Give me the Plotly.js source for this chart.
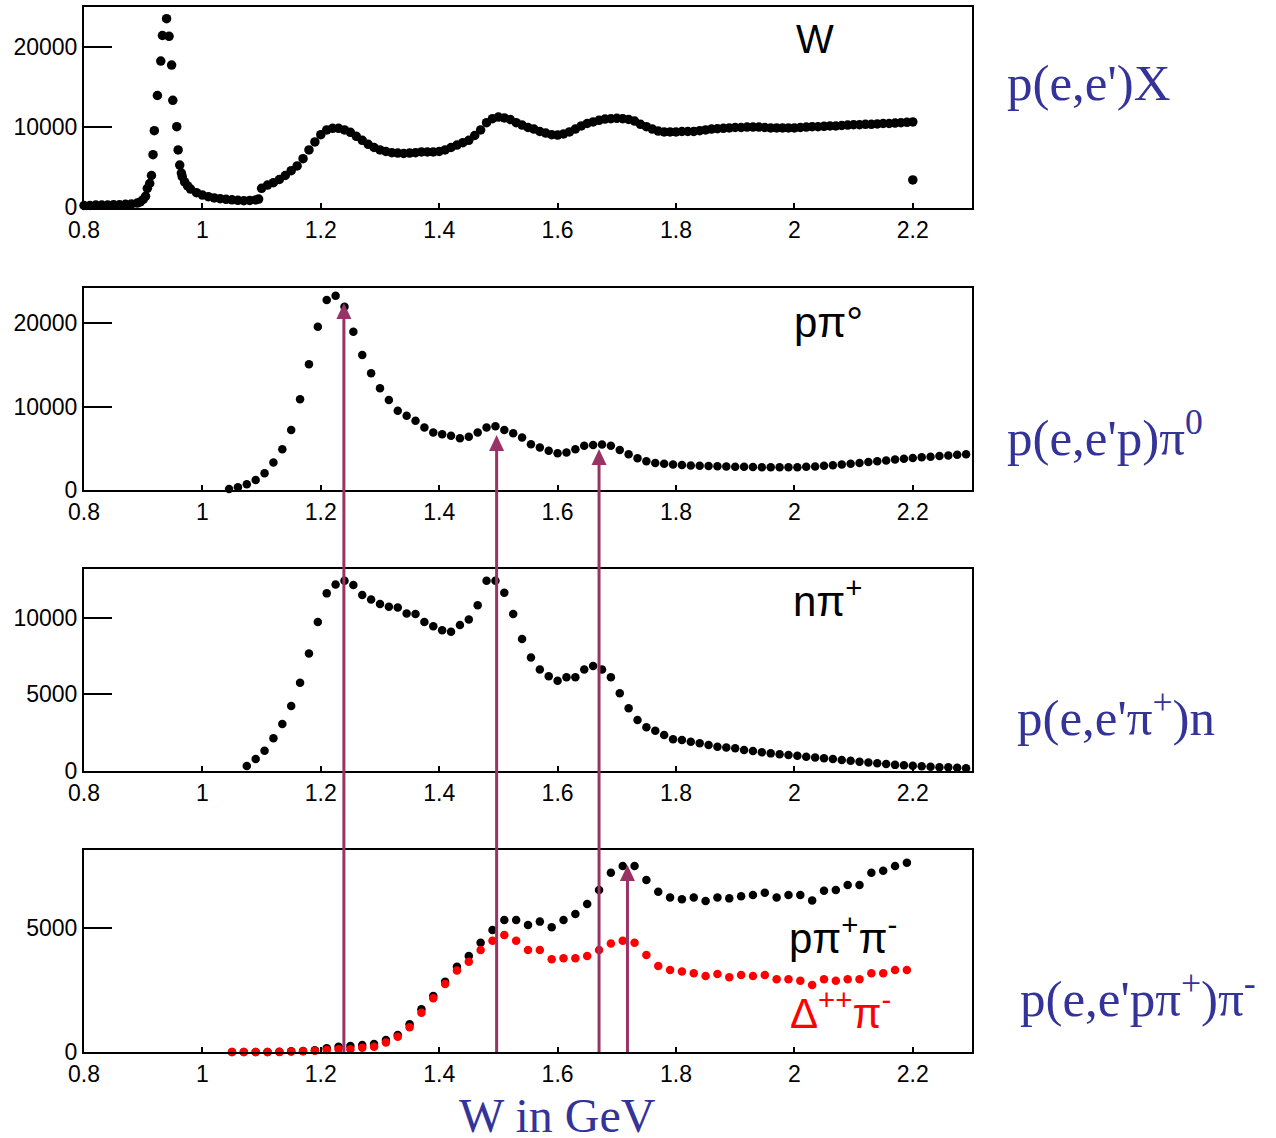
<!DOCTYPE html>
<html><head><meta charset="utf-8">
<script src="https://cdn.plot.ly/plotly-3.0.1.min.js"></script>
<style>html,body{margin:0;padding:0;background:#fff;} #chart{width:1276px;height:1138px;}</style>
</head><body><div id="chart"></div>
<script>
// ---------- data ----------
const xTickVals = [0.8, 1, 1.2, 1.4, 1.6, 1.8, 2, 2.2];
const xTickText = ["0.8", "1", "1.2", "1.4", "1.6", "1.8", "2", "2.2"];

// Panel 1: inclusive p(e,e')X
const wInclW = [0.80,0.81,0.82,0.83,0.84,0.85,0.86,0.87,0.88,0.89,
  0.895,0.90,0.904,0.907,0.911,0.914,0.9166,0.9188,0.924,0.9297,
  0.9325,0.9395,0.9437,0.948,0.950,0.9567,0.959,0.9617,0.9645,0.966,
  0.970,0.975,0.980,0.990,1.00,1.01,1.02,1.03,1.04,1.05,
  1.06,1.07,1.08,1.09,1.095,1.10,1.11,1.12,1.13,1.14,
  1.15,1.16,1.17,1.18,1.19,1.20,1.21,1.22,1.23,1.24,
  1.25,1.26,1.27,1.28,1.29,1.30,1.31,1.32,1.33,1.34,
  1.35,1.36,1.37,1.38,1.39,1.40,1.41,1.42,1.43,1.44,
  1.45,1.46,1.47,1.48,1.49,1.50,1.51,1.52,1.53,1.54,
  1.55,1.56,1.57,1.58,1.59,1.60,1.61,1.62,1.63,1.64,
  1.65,1.66,1.67,1.68,1.69,1.70,1.71,1.72,1.73,1.74,
  1.75,1.76,1.77,1.78,1.79,1.80,1.81,1.82,1.83,1.84,
  1.85,1.86,1.87,1.88,1.89,1.90,1.91,1.92,1.93,1.94,
  1.95,1.96,1.97,1.98,1.99,2.00,2.01,2.02,2.03,2.04,
  2.05,2.06,2.07,2.08,2.09,2.10,2.11,2.12,2.13,2.14,
  2.15,2.16,2.17,2.18,2.19,2.20,2.20];
const wInclY = [150,150,200,200,200,250,250,300,350,450,
  600,900,1300,2300,2900,3900,6500,9500,13900,18200,
  21400,23500,21300,17700,13300,10000,7100,5200,4200,3750,
  3100,2600,2200,1750,1450,1250,1100,1000,920,860,
  800,760,780,850,950,2300,2700,3000,3400,3900,
  4500,5100,6000,7100,8100,9000,9600,9800,9800,9600,
  9300,8800,8300,7800,7400,7100,6900,6750,6700,6650,
  6700,6750,6850,6850,6850,6900,7100,7400,7700,8000,
  8300,8900,9600,10500,11000,11200,11100,10900,10500,10200,
  9900,9700,9400,9200,9000,8950,9100,9350,9700,10100,
  10400,10600,10800,10950,11000,11050,11000,10900,10700,10300,
  10000,9700,9450,9350,9350,9350,9400,9400,9400,9500,
  9600,9700,9750,9800,9850,9900,9900,9950,9950,9950,
  9900,9850,9850,9850,9850,9850,9900,9950,10000,10000,
  10050,10100,10100,10150,10200,10250,10250,10300,10300,10350,
  10400,10400,10450,10500,10550,10600,3350];

// Panel 2: p pi0
const pPi0W = [1.045,1.06,1.075,1.09,1.105,1.12,1.135,1.15,1.165,1.18,
  1.195,1.21,1.225,1.24,1.255,1.27,1.285,1.30,1.315,1.33,
  1.345,1.36,1.375,1.39,1.405,1.42,1.435,1.45,1.465,1.48,
  1.495,1.51,1.525,1.54,1.555,1.57,1.585,1.60,1.615,1.63,
  1.645,1.66,1.675,1.69,1.705,1.72,1.735,1.75,1.765,1.78,
  1.795,1.81,1.825,1.84,1.855,1.87,1.885,1.90,1.915,1.93,
  1.945,1.96,1.975,1.99,2.005,2.02,2.035,2.05,2.065,2.08,
  2.095,2.11,2.125,2.14,2.155,2.17,2.185,2.20,2.215,2.23,
  2.245,2.26,2.275,2.29];
const pPi0Y = [120,320,700,1200,2000,3300,4900,7200,10900,15100,
  19600,22800,23300,22000,19000,16200,14000,12200,10800,9500,
  8900,8300,7500,6900,6700,6500,6200,6400,6900,7500,
  7650,7200,6800,6300,5500,5100,4700,4400,4500,4900,
  5300,5400,5450,5300,4800,4300,3800,3450,3250,3150,
  3050,3000,2950,2900,2880,2850,2820,2800,2780,2760,
  2740,2720,2720,2720,2740,2780,2830,2900,2980,3050,
  3150,3250,3350,3450,3550,3650,3750,3850,3930,4000,
  4080,4150,4230,4300];

// Panel 3: n pi+
const nPipW = [1.075,1.09,1.105,1.12,1.135,1.15,1.165,1.18,1.195,1.21,
  1.225,1.24,1.255,1.27,1.285,1.30,1.315,1.33,1.345,1.36,
  1.375,1.39,1.405,1.42,1.435,1.45,1.465,1.48,1.495,1.51,
  1.525,1.54,1.555,1.57,1.585,1.60,1.615,1.63,1.645,1.66,
  1.675,1.69,1.705,1.72,1.735,1.75,1.765,1.78,1.795,1.81,
  1.825,1.84,1.855,1.87,1.885,1.90,1.915,1.93,1.945,1.96,
  1.975,1.99,2.005,2.02,2.035,2.05,2.065,2.08,2.095,2.11,
  2.125,2.14,2.155,2.17,2.185,2.20,2.215,2.23,2.245,2.26,
  2.275,2.29];
const nPipY = [330,780,1320,2130,3060,4240,5760,7670,9730,11590,
  12170,12410,12130,11480,11190,10890,10710,10670,10280,10240,
  9730,9450,9190,9080,9520,9890,10820,12410,12410,11630,
  10240,8610,7410,6630,6190,5890,6110,6110,6630,6850,
  6630,6110,5070,4090,3330,2850,2630,2350,2070,2020,
  1910,1810,1700,1580,1540,1480,1370,1300,1220,1150,
  1100,1040,990,930,880,830,780,720,670,610,
  560,500,450,400,370,340,310,270,240,240,
  220,180];

// Panel 4: p pi+ pi- (black) and Delta++ pi- (red)
const ppipiW = [1.05,1.07,1.09,1.11,1.13,1.15,1.17,1.19,
  1.21,1.23,1.25,1.27,1.29,1.31,1.33,1.35,1.37,1.39,
  1.41,1.43,1.45,1.47,1.49,1.51,1.53,1.55,1.57,1.59,
  1.61,1.63,1.65,1.67,1.69,1.71,1.73,1.75,1.77,1.79,
  1.81,1.83,1.85,1.87,1.89,1.91,1.93,1.95,1.97,1.99,
  2.01,2.03,2.05,2.07,2.09,2.11,2.13,2.15,2.17,2.19];
const ppipiY = [0,0,0,0,10,30,40,70,
  150,215,240,280,325,485,690,1120,1725,2260,
  2840,3450,3880,4420,4930,5340,5340,5130,5270,5040,
  5340,5580,5980,6550,7250,7520,7520,6950,6480,6250,
  6170,6250,6100,6250,6210,6300,6350,6440,6250,6350,
  6350,6120,6520,6550,6750,6750,7250,7330,7520,7650];
const deltaPiY = [0,0,0,0,0,20,30,55,
  80,110,110,175,215,380,620,1000,1590,2170,
  2750,3290,3650,4120,4500,4730,4500,4120,4120,3750,
  3790,3790,3880,4120,4390,4500,4420,3920,3480,3310,
  3250,3180,3070,3150,3020,3110,3070,3110,2940,2940,
  2880,2710,2940,2880,2940,2940,3180,3180,3310,3310];

// Arrows (resonance positions)
const arrowW = [1.239, 1.497, 1.670, 1.718];
const arrowTipPanel = [2, 2, 2, 4];
const arrowTipValue = [22440, 6600, 4920, 7560];

// ---------- layout ----------
const W = 1276, H = 1138;
const margin = {l: 84, r: 304, t: 7, b: 86, pad: 0};
const plotH = H - margin.t - margin.b;
const plotW = W - margin.l - margin.r;
const domains = {1: [0.80766, 1.0], 2: [0.5378, 0.7311], 3: [0.2689, 0.4622], 4: [0, 0.1933]};
const yRanges = {1: [-160, 24960], 2: [0, 24235], 3: [0, 13180], 4: [0, 8165]};
const yTicks = {1: [0, 10000, 20000], 2: [0, 10000, 20000], 3: [0, 5000, 10000], 4: [0, 5000]};

const tickFont = {family: 'Liberation Sans, Arial, sans-serif', size: 23, color: '#000'};
const black = '#000000';
const red = '#ff0000';
const purple = '#993366';
const blue = '#333399';

function mk(x, y, i, color, size) {
  return {x: x, y: y, type: 'scatter', mode: 'markers', xaxis: 'x' + (i === 1 ? '' : i), yaxis: 'y' + (i === 1 ? '' : i),
    marker: {color: color, size: size, line: {width: 0}}, cliponaxis: false, hoverinfo: 'skip'};
}
const data = [
  mk(wInclW, wInclY, 1, black, 9.5),
  mk(pPi0W, pPi0Y, 2, black, 8.5),
  mk(nPipW, nPipY, 3, black, 8.5),
  mk(ppipiW, ppipiY, 4, black, 8.5),
  mk(ppipiW, deltaPiY, 4, red, 8.5)
];

const layout = {
  width: W, height: H, margin: margin,
  paper_bgcolor: '#fff', plot_bgcolor: '#fff', showlegend: false,
  annotations: [], shapes: []
};
for (let i = 1; i <= 4; i++) {
  const s = i === 1 ? '' : String(i);
  layout['xaxis' + s] = {
    domain: [0, 1], range: [0.8, 2.3], anchor: 'y' + s,
    tickvals: xTickVals, ticktext: xTickText, ticks: 'inside', ticklen: 5, tickwidth: 2, tickcolor: black,
    showline: true, linewidth: 2, linecolor: black, mirror: true, showgrid: false, zeroline: false,
    tickfont: tickFont, ticklabelstandoff: 0
  };
  layout['yaxis' + s] = {
    domain: domains[i], range: yRanges[i], anchor: 'x' + s,
    tickvals: yTicks[i], ticktext: yTicks[i].map(String), ticks: 'inside', ticklen: 28, tickwidth: 2, tickcolor: black,
    showline: true, linewidth: 2, linecolor: black, mirror: true, showgrid: false, zeroline: false,
    tickfont: tickFont
  };
}

function paperY(panel, v) {
  const d = domains[panel], r = yRanges[panel];
  return d[0] + (v - r[0]) / (r[1] - r[0]) * (d[1] - d[0]);
}
const headLen = 16, headHalf = 7.5;
for (let k = 0; k < arrowW.length; k++) {
  const p = arrowTipPanel[k];
  layout.shapes.push({type: 'line', xref: 'x4', yref: 'paper', x0: arrowW[k], x1: arrowW[k],
    y0: paperY(4, 0), y1: paperY(p, arrowTipValue[k]) - (headLen - 3) / plotH,
    line: {color: purple, width: 3}, layer: 'above'});
  layout.shapes.push({type: 'path', xref: 'x' + p, yref: 'y' + p, xsizemode: 'pixel', ysizemode: 'pixel',
    xanchor: arrowW[k], yanchor: arrowTipValue[k],
    path: 'M' + (-headHalf) + ',' + (-headLen) + ' L' + headHalf + ',' + (-headLen) + ' L0,0 Z',
    fillcolor: purple, line: {width: 0}, layer: 'above'});
}

function px2x(px) { return (px - margin.l) / plotW; }
function py2y(py) { return (margin.t + plotH - py) / plotH; }
const sans = 'Liberation Sans, Arial, sans-serif';
const serif = 'Liberation Serif, Times New Roman, serif';
function lab(text, px, py, size, color, family, xanchor) {
  layout.annotations.push({text: text, xref: 'paper', yref: 'paper', x: px2x(px), y: py2y(py),
    xanchor: xanchor || 'center', yanchor: 'middle', showarrow: false,
    font: {family: family, size: size, color: color}});
}
// in-panel labels
lab('W', 815, 39, 40, black, sans);
lab('pπ°', 828, 322, 42, black, sans);
lab('nπ<sup>+</sup>', 828, 598, 42, black, sans);
lab('pπ<sup>+</sup>π<sup>-</sup>', 843, 935, 42, black, sans);
lab('Δ<sup>++</sup>π<sup>-</sup>', 840, 1010, 42, red, sans);
// reaction labels
lab("p(e,e')X", 1005, 83, 51, blue, serif, 'left');
lab("p(e,e'p)π<sup>0</sup>", 1005, 434, 51, blue, serif, 'left');
lab("p(e,e'π<sup>+</sup>)n", 1015, 714, 51, blue, serif, 'left');
lab("p(e,e'pπ<sup>+</sup>)π<sup>-</sup>", 1018, 995, 51, blue, serif, 'left');
lab('W in GeV', 557, 1115, 48, blue, serif);

Plotly.newPlot('chart', data, layout, {staticPlot: true, displayModeBar: false});
</script></body></html>
